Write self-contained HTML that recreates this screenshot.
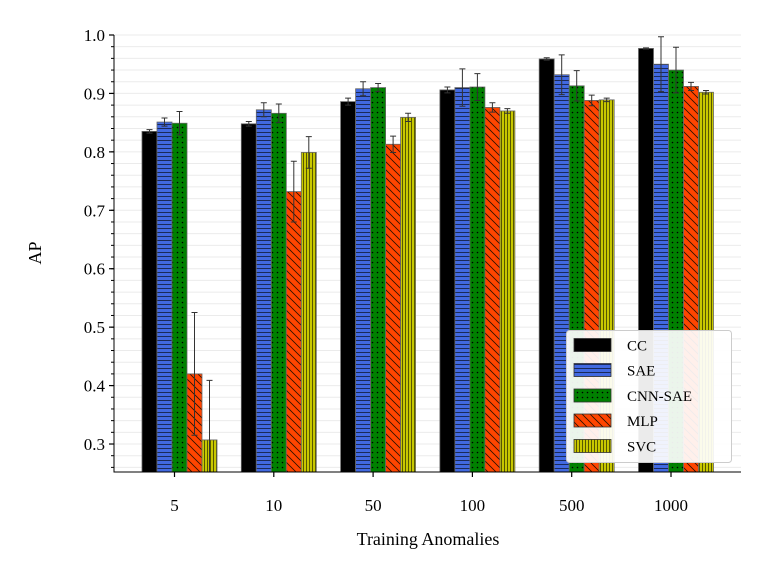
<!DOCTYPE html>
<html><head><meta charset="utf-8"><style>
html,body{margin:0;padding:0;background:#fff;width:768px;height:576px;overflow:hidden}
svg text{font-family:"Liberation Serif","DejaVu Serif",serif;fill:#000}
</style></head><body>
<svg id="chart" width="768" height="576" xmlns="http://www.w3.org/2000/svg">
<defs>
<clipPath id="plot-clip"><rect x="114" y="20" width="627" height="452"/></clipPath>
<pattern id="p-sae" width="8" height="4" patternUnits="userSpaceOnUse"><rect width="8" height="4" fill="#4169e1"/><line x1="0" y1="0.5" x2="8" y2="0.5" stroke="#1a2a5a" stroke-width="1"/></pattern>
<pattern id="p-cnn" width="5" height="5" patternUnits="userSpaceOnUse"><rect width="5" height="5" fill="#008000"/><circle cx="2.5" cy="2.5" r="0.8" fill="#000"/></pattern>
<pattern id="p-mlp" width="8" height="8" patternUnits="userSpaceOnUse"><rect width="8" height="8" fill="#ff4500"/><path d="M0,0 L8,8 M-4,4 L4,12 M4,-4 L12,4" stroke="#2a1000" stroke-width="0.8"/></pattern>
<pattern id="p-svc" width="3" height="8" patternUnits="userSpaceOnUse"><rect width="3" height="8" fill="#c8c800"/><line x1="0.5" y1="0" x2="0.5" y2="8" stroke="#3a3a00" stroke-width="0.8"/></pattern>
</defs>
</svg>
<script>
const categories=["5","10","50","100","500","1000"];
const seriesNames=["CC","SAE","CNN-SAE","MLP","SVC"];
const ccVals=[0.835,0.848,0.886,0.906,0.959,0.977];
const ccErr=[0.003,0.004,0.006,0.005,0.002,0.001];
const saeVals=[0.851,0.872,0.908,0.910,0.932,0.950];
const saeErr=[0.007,0.012,0.012,0.032,0.034,0.047];
const cnnVals=[0.849,0.866,0.910,0.911,0.913,0.940];
const cnnErr=[0.020,0.016,0.007,0.023,0.026,0.039];
const mlpVals=[0.420,0.732,0.813,0.876,0.888,0.912];
const mlpErr=[0.105,0.052,0.014,0.008,0.009,0.007];
const svcVals=[0.307,0.799,0.859,0.870,0.889,0.902];
const svcErr=[0.102,0.027,0.007,0.004,0.003,0.003];
const yTicks=[0.3,0.4,0.5,0.6,0.7,0.8,0.9,1.0];
const yTickLabels=["0.3","0.4","0.5","0.6","0.7","0.8","0.9","1.0"];

const NS="http://www.w3.org/2000/svg";
const svg=document.getElementById('chart');
const L=114,R=741,T=35,B=472,yMin=0.2521,yMax=1.0;
const y=v=>B-(v-yMin)/(yMax-yMin)*(B-T);
const x=i=>174.5+i*99.3;
const BW=15;
function mk(tag,attrs,parent){const e=document.createElementNS(NS,tag);for(const k in attrs)e.setAttribute(k,attrs[k]);(parent||svg).appendChild(e);return e;}
const fills=["#000","url(#p-sae)","url(#p-cnn)","url(#p-mlp)","url(#p-svc)"];
const vals=[ccVals,saeVals,cnnVals,mlpVals,svcVals];
const errs=[ccErr,saeErr,cnnErr,mlpErr,svcErr];

const grid=mk('g',{});


for(let k=0;k<=37;k++){const v=0.26+k*0.02;if(v>1.0001)break;const yy=y(v);
 const ln=mk('line',{x1:L,x2:R,y1:yy,y2:yy,stroke:'#ebebeb','stroke-width':1},grid);
 
 
 const tk=mk('line',{x1:L-3,x2:L,y1:yy,y2:yy,stroke:'#000','stroke-width':1});
 
 
}
for(let s=0;s<5;s++){
 const g=mk('g',{'clip-path':'url(#plot-clip)'});
 
 
 for(let i=0;i<categories.length;i++){
  const bx=x(i)-32.5+s*BW, top=y(vals[s][i]);
  const r=mk('rect',{x:bx,y:top,width:BW,height:B-top,fill:fills[s],stroke:'#666','stroke-width':0.8},g);
  
  
  const cx=bx+BW/2,e1=y(vals[s][i]+errs[s][i]),e0=y(vals[s][i]-errs[s][i]);
  const eb=mk('path',{d:`M${cx},${e1}V${e0}M${cx-3},${e1}H${cx+3}M${cx-3},${e0}H${cx+3}`,stroke:'#333','stroke-width':1,fill:'none'},g);
  
  
 }
}
const ax=mk('path',{d:`M${L},${T}V${B}H${R}`,stroke:'#000','stroke-width':1,fill:'none'});


yTicks.forEach((v,k)=>{const yy=y(v);
 const t=mk('line',{x1:L-5,x2:L,y1:yy,y2:yy,stroke:'#000','stroke-width':1.2});
 
 
 const tx=mk('text',{x:L-9,y:yy+6,'text-anchor':'end','font-size':17});
 tx.textContent=yTickLabels[k];
 
 
});
categories.forEach((c,i)=>{
 const t=mk('line',{x1:x(i),x2:x(i),y1:B,y2:B+5,stroke:'#000','stroke-width':1.2});
 
 
 const tx=mk('text',{x:x(i),y:B+39,'text-anchor':'middle','font-size':17});
 tx.textContent=c;
 
 
});
const xt=mk('text',{x:428,y:545,'text-anchor':'middle','font-size':18});
xt.textContent='Training Anomalies';


const yt=mk('text',{x:0,y:0,'text-anchor':'middle','font-size':18,transform:'translate(41,253) rotate(-90)'});
yt.textContent='AP';


const lg=mk('g',{});


mk('rect',{x:566.5,y:330.5,width:165,height:132,rx:3,fill:'#fff','fill-opacity':0.92,stroke:'#ccc','stroke-width':1},lg);
const rows=[345,370,395.5,420.5,446];
seriesNames.forEach((n,s)=>{
 const e=mk('g',{},lg);
 
 
 mk('rect',{x:574,y:rows[s]-6.5,width:37,height:13,fill:fills[s],stroke:'#333','stroke-width':0.8},e);
 const t=mk('text',{x:627,y:rows[s]+5.5,'font-size':15},e);
 t.textContent=n;
});
</script>
</body></html>
